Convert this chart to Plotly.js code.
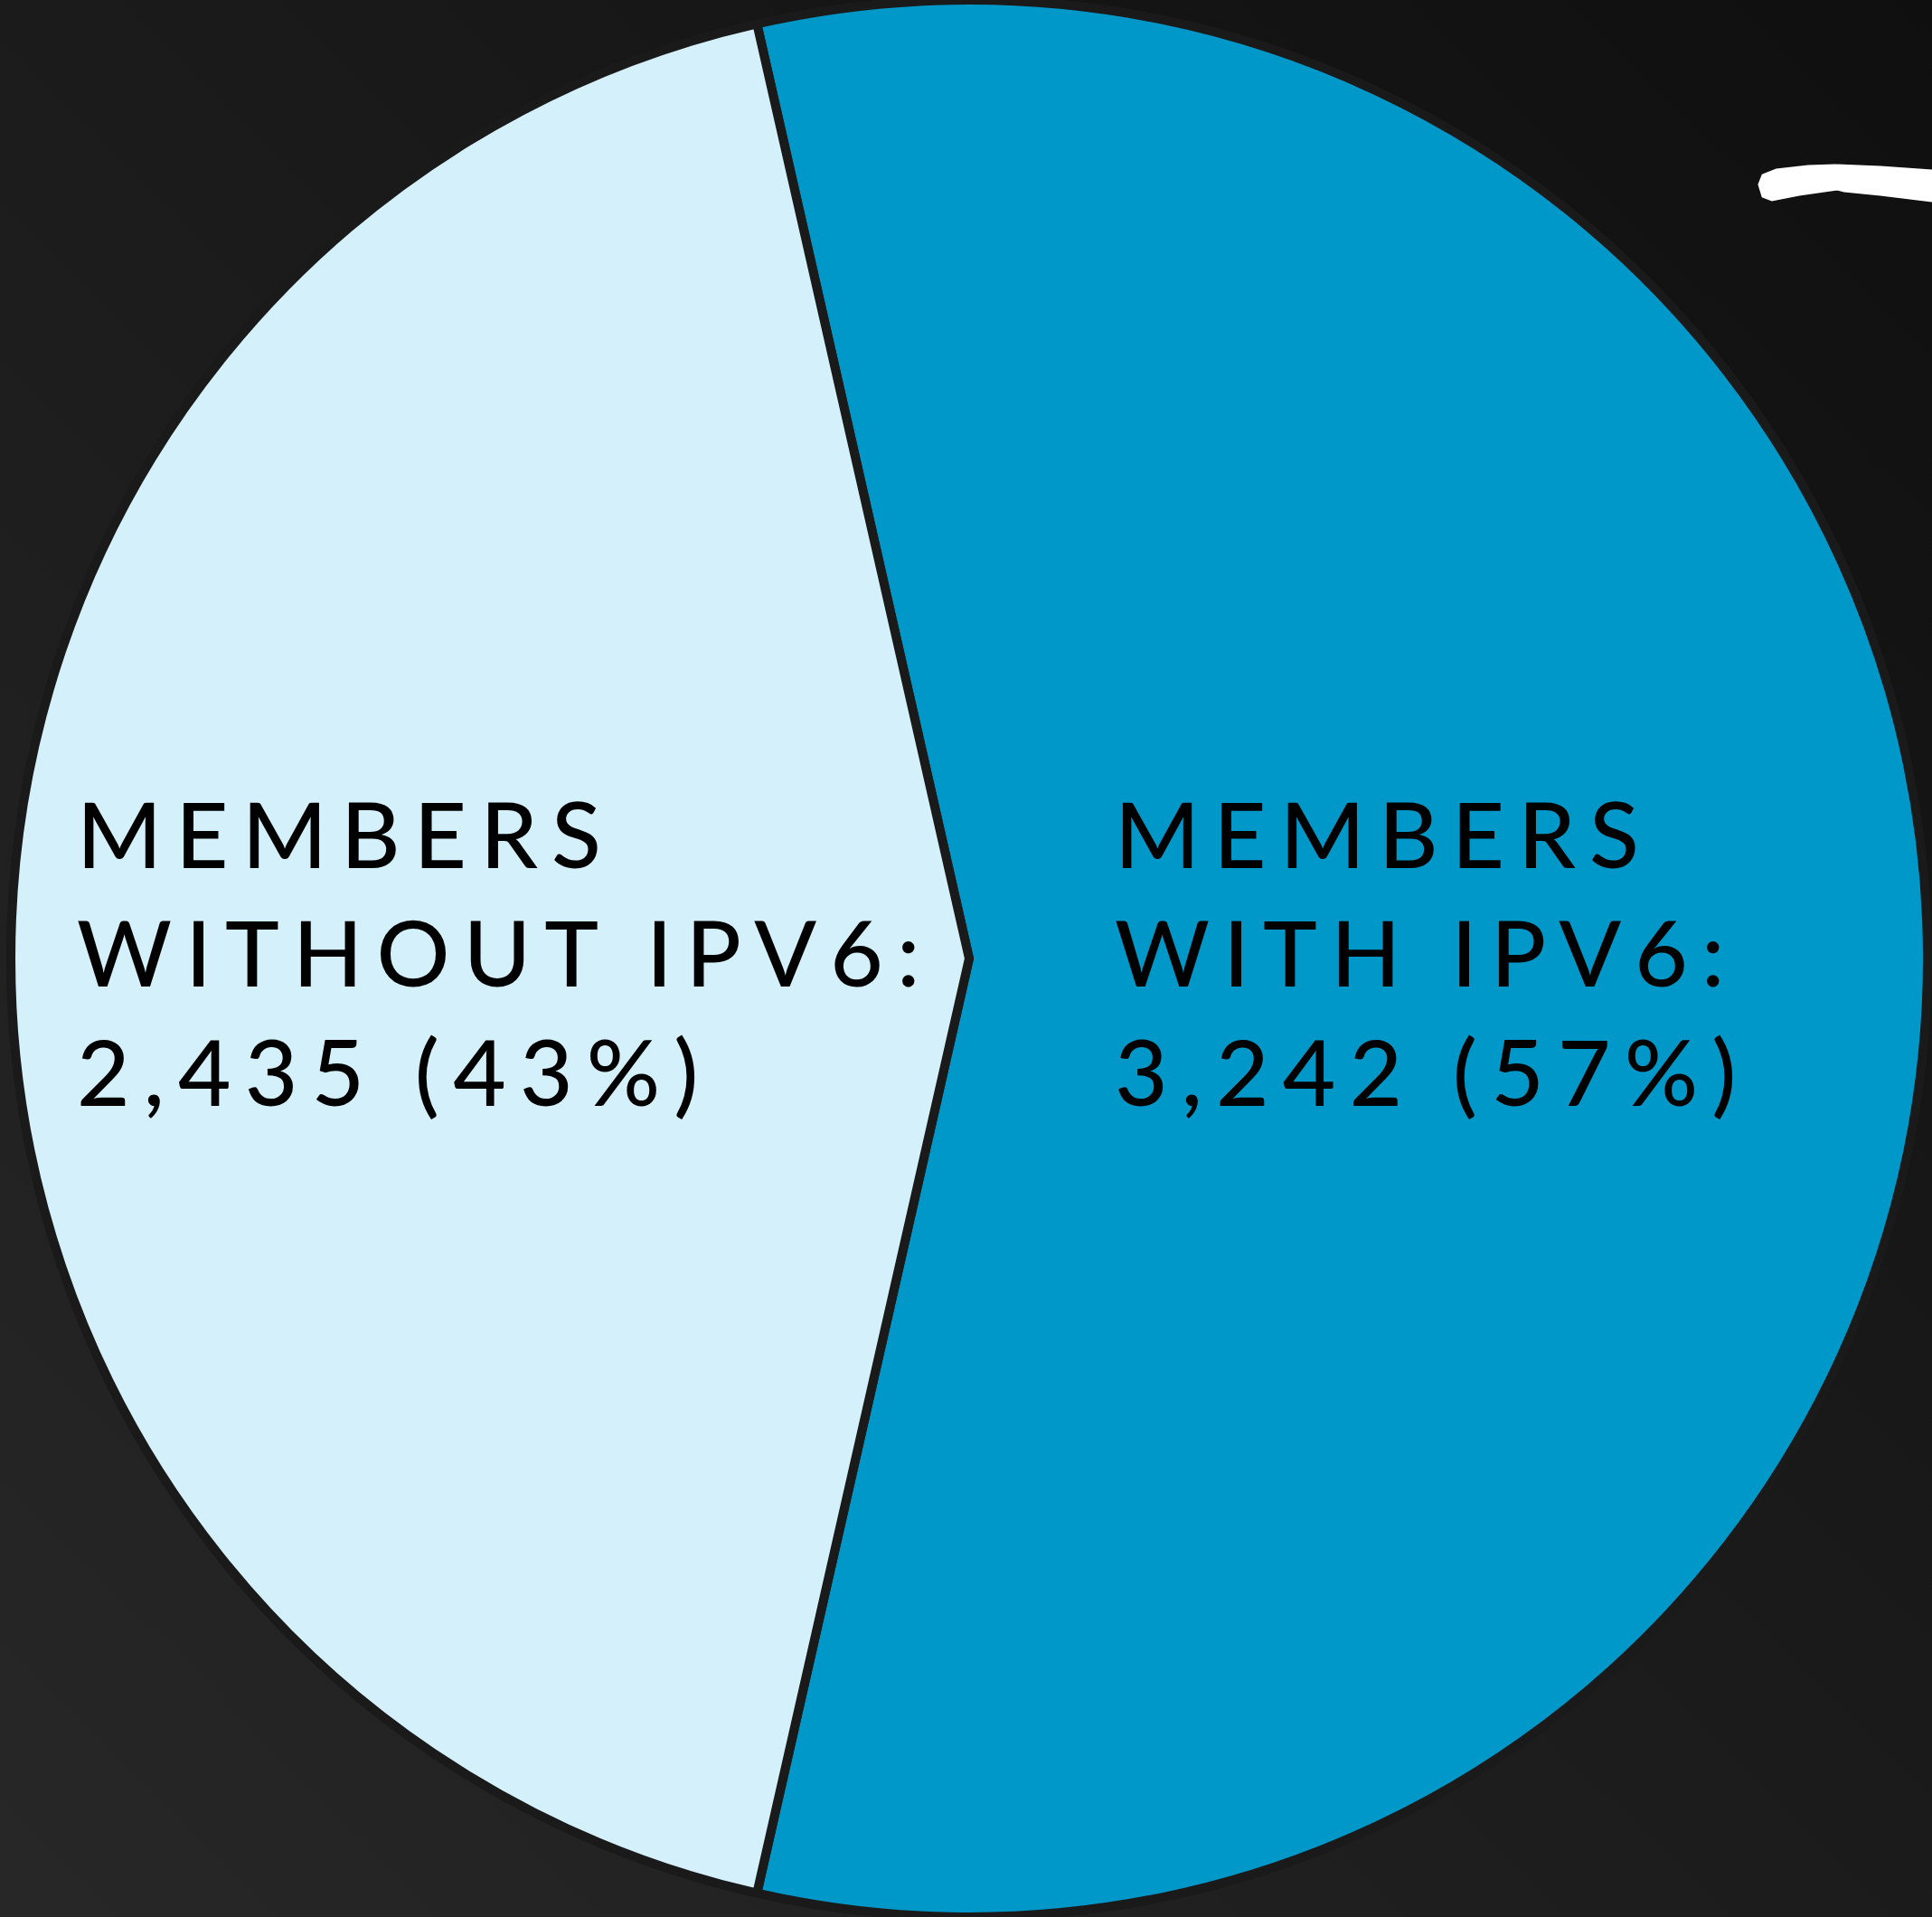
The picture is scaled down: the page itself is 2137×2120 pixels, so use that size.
<!DOCTYPE html>
<html>
<head>
<meta charset="utf-8">
<script src="https://cdn.plot.ly/plotly-3.0.1.min.js"></script>
<style>
  html, body { margin:0; padding:0; }
  body { width:2137px; height:2120px; background: linear-gradient(to top right, #272727 0%, #1b1b1b 50%, #0f0f0f 100%); }
  #chart { width:2137px; height:2120px; }
  .annotation-text { letter-spacing: 0.15em; }
</style>
</head>
<body>
<div id="chart"></div>
<script>
// ---- data ----
const categories = ["MEMBERS WITH IPV6", "MEMBERS WITHOUT IPV6"];
const labelLines = [["MEMBERS", "WITH IPV6:"], ["MEMBERS", "WITHOUT IPV6:"]];
const memberCounts = [3242, 2435];
const sliceColors = ["#0097C9", "#D4F0FA"];

const W = 2137, H = 2120;
const cx = 1072, cy = 1060, r = 1060;

const total = memberCounts.reduce((a, b) => a + b, 0);
const fmt = n => n.toLocaleString("en-US");

// first slice (blue) centred on the right
const firstShare = memberCounts[0] / total;
const rotation = 90 - firstShare * 180;

const trace = {
  type: "pie",
  labels: categories,
  values: memberCounts,
  sort: false,
  direction: "clockwise",
  rotation: rotation,
  marker: { colors: sliceColors, line: { color: "#1a1a1a", width: 10 } },
  textinfo: "none",
  hoverinfo: "none",
  showlegend: false,
  domain: { x: [(cx - r) / W, (cx + r) / W], y: [1 - (cy + r) / H, 1 - (cy - r) / H] }
};

// annotation text built from data
const annX = [1231 / W, 83 / W];
const annotations = categories.map((c, i) => ({
  xref: "paper", yref: "paper",
  x: annX[i], y: 0.5035,
  xanchor: "left", yanchor: "middle", align: "left",
  showarrow: false,
  text: labelLines[i].join("<br>") + "<br>" + fmt(memberCounts[i]) + " (" + Math.round(memberCounts[i] / total * 100) + "%)",
  font: { family: "Lato, 'Noto Sans', sans-serif", size: 101, weight: 500, color: "#000000" }
}));

// decorative white brush stroke (top right)
const strokePx = [[1946,204],[1950,194],[1965,188],[2000,184],[2030,183],[2080,185],[2137,189],[2137,222],[2080,215],[2040,211],[2032,209],[1990,215],[1960,221],[1950,217]];
const strokePath = strokePx.map((p, i) => (i ? "L" : "M") + (p[0] / W).toFixed(5) + "," + (1 - p[1] / H).toFixed(5)).join(" ") + " Z";

const layout = {
  width: W, height: H,
  margin: { l: 0, r: 0, t: 0, b: 0 },
  paper_bgcolor: "rgba(0,0,0,0)",
  plot_bgcolor: "rgba(0,0,0,0)",
  annotations: annotations,
  shapes: [{ type: "path", xref: "paper", yref: "paper", path: strokePath, fillcolor: "#ffffff", line: { color: "#ffffff", width: 3 }, layer: "above" }]
};

Plotly.newPlot("chart", [trace], layout, { displayModeBar: false, staticPlot: true });
</script>
</body>
</html>
